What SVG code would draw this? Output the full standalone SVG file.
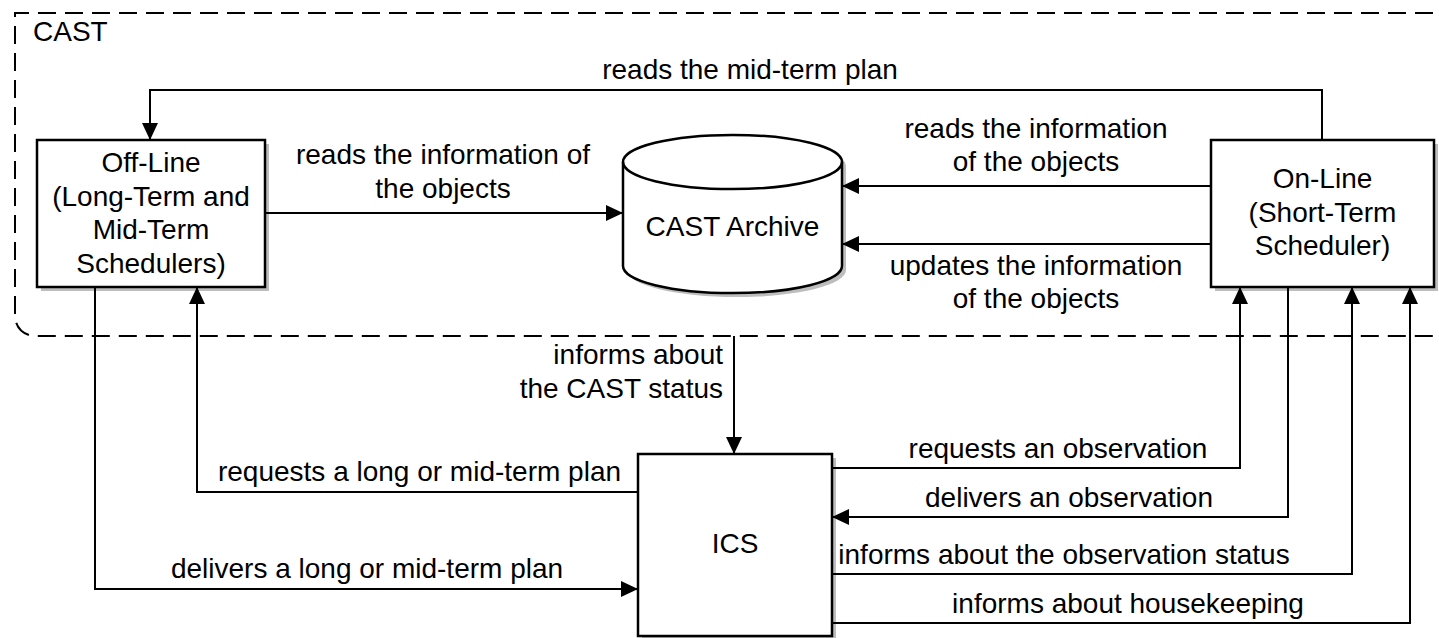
<svg xmlns="http://www.w3.org/2000/svg" width="1439" height="638" viewBox="0 0 1439 638">
<style>
  text { font-family: "Liberation Sans", Arial, sans-serif; font-size: 28px; fill: #000; }
  .c { text-anchor: middle; }
  .e { text-anchor: end; }
  .box { fill: #fff; stroke: #000; stroke-width: 2.5; }
  .shadow { fill: #bdbdbd; stroke: none; }
  .conn { fill: none; stroke: #000; stroke-width: 2; }
  .bound { fill: none; stroke: #000; stroke-width: 2; stroke-dasharray: 18 9; }
</style>
<defs>
  <marker id="arr" markerUnits="userSpaceOnUse" markerWidth="18" markerHeight="16" refX="17" refY="8" orient="auto">
    <path d="M0,0 L17,8 L0,16 Z" fill="#000"/>
  </marker>
</defs>
<rect width="1439" height="638" fill="#fff"/>

<g id="cast-boundary">
  <path class="bound" d="M1460 13 H15 V316 A20 20 0 0 0 35 336 H1460"/>
  <text x="33" y="41">CAST</text>
</g>

<g id="offline">
  <rect class="shadow" x="41" y="144" width="228" height="147"/>
  <rect class="box" x="37" y="140" width="228" height="147"/>
  <text class="c" x="151" y="172">Off-Line</text>
  <text class="c" x="151" y="205.6">(Long-Term and</text>
  <text class="c" x="151" y="239.2">Mid-Term</text>
  <text class="c" x="151" y="272.8">Schedulers)</text>
</g>

<g id="archive">
  <path class="shadow" d="M627 166 A109 27 0 0 1 846 166 V270 A109 27 0 0 1 627 270 Z"/>
  <path class="box" d="M623 162 A109 27 0 0 1 842 162 V266 A109 27 0 0 1 623 266 Z"/>
  <path class="box" style="fill:none" d="M623 162 A109 27 0 0 0 842 162"/>
  <text class="c" x="732.5" y="236">CAST Archive</text>
</g>

<g id="online">
  <rect class="shadow" x="1215" y="144" width="223" height="147"/>
  <rect class="box" x="1211" y="140" width="223" height="147"/>
  <text class="c" x="1322.5" y="188">On-Line</text>
  <text class="c" x="1322.5" y="221.6">(Short-Term</text>
  <text class="c" x="1322.5" y="255.2">Scheduler)</text>
</g>

<g id="ics">
  <rect class="shadow" x="642" y="458" width="194" height="182"/>
  <rect class="box" x="638" y="454" width="194" height="182"/>
  <text class="c" x="735" y="553">ICS</text>
</g>

<g id="connectors">
  <path class="conn" d="M1322 140 V90 H150 V140" marker-end="url(#arr)"/>
  <path class="conn" d="M265 213 H623" marker-end="url(#arr)"/>
  <path class="conn" d="M1211 186 H842" marker-end="url(#arr)"/>
  <path class="conn" d="M1211 244 H842" marker-end="url(#arr)"/>
  <path class="conn" d="M95 287 V589 H638" marker-end="url(#arr)"/>
  <path class="conn" d="M638 492 H197 V287" marker-end="url(#arr)"/>
  <path class="conn" d="M734 336 V454" marker-end="url(#arr)"/>
  <path class="conn" d="M832 468 H1240 V287" marker-end="url(#arr)"/>
  <path class="conn" d="M1288 287 V517 H832" marker-end="url(#arr)"/>
  <path class="conn" d="M832 574 H1352 V287" marker-end="url(#arr)"/>
  <path class="conn" d="M832 623 H1410 V287" marker-end="url(#arr)"/>

  <text class="c" x="750" y="79">reads the mid-term plan</text>
  <text class="c" x="443" y="164">reads the information of</text>
  <text class="c" x="443" y="197.6">the objects</text>
  <text class="c" x="1036" y="137.5">reads the information</text>
  <text class="c" x="1036" y="171.1">of the objects</text>
  <text class="c" x="1036" y="274.5">updates the information</text>
  <text class="c" x="1036" y="308.1">of the objects</text>
  <text class="e" x="723" y="364">informs about</text>
  <text class="e" x="723" y="397.6">the CAST status</text>
  <text class="c" x="419.5" y="480.5">requests a long or mid-term plan</text>
  <text class="c" x="367" y="577.5">delivers a long or mid-term plan</text>
  <text class="c" x="1058" y="457.5">requests an observation</text>
  <text class="c" x="1069" y="507">delivers an observation</text>
  <text class="c" x="1064" y="564">informs about the observation status</text>
  <text class="c" x="1128" y="613">informs about housekeeping</text>
</g>
</svg>
